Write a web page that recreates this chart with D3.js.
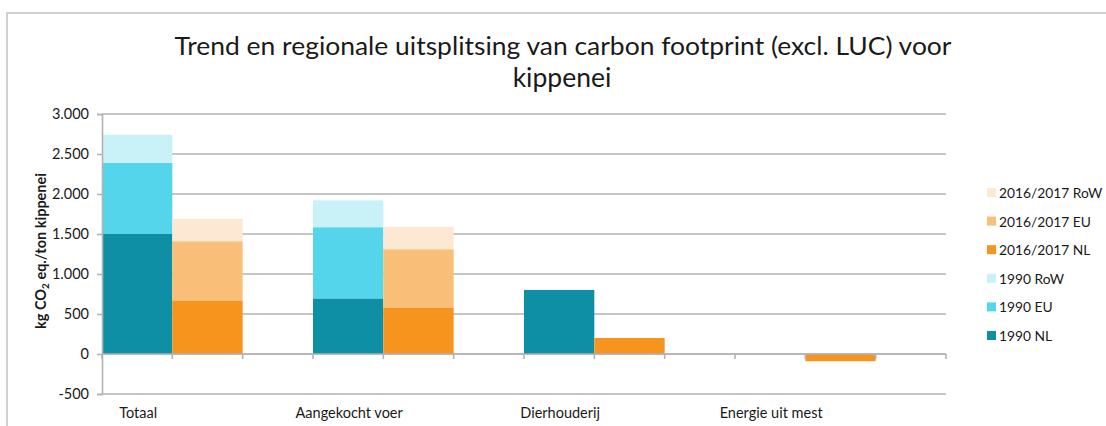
<!DOCTYPE html>
<html>
<head>
<meta charset="utf-8">
<script src="https://cdn.jsdelivr.net/npm/d3@7"></script>
<style>
  body { margin: 0; background: #fff; }
  text { font-family: Lato, "Open Sans", sans-serif; fill: #1a1a1a; }
</style>
</head>
<body>
<div id="vis"></div>
<script>
// DATA ---------------------------------------------------------------
const categories = ["Totaal", "Aangekocht voer", "Dierhouderij", "Energie uit mest"]
const nl1990  = [1500, 695, 800, 0]
const eu1990  = [890, 890, 0, 0]
const row1990 = [350, 335, 0, 0]
const nl2016  = [670, 575, 200, -90]
const eu2016  = [740, 735, 0, 0]
const row2016 = [280, 280, 0, 0]
const yTicks  = [-500, 0, 500, 1000, 1500, 2000, 2500, 3000]
const legendLabels = ["2016/2017 RoW", "2016/2017 EU", "2016/2017 NL", "1990 RoW", "1990 EU", "1990 NL"]

// SETTINGS -----------------------------------------------------------
const width = 1106, height = 426
const plot = { left: 102, right: 946, top: 114, bottom: 394 }
const slots = 12 // 3 slots per category: 1990, 2016/2017, empty
const colors = {
  "1990 NL": "#0f8fa6", "1990 EU": "#55d5ec", "1990 RoW": "#c8f1f8",
  "2016/2017 NL": "#f7941e", "2016/2017 EU": "#f9bf79", "2016/2017 RoW": "#fde9d3"
}
const gridColor = "#b3b3b3"
const labelSize = 14.5

const svg = d3.select("#vis").append("svg")
  .attr("width", width).attr("height", height)

// outer frame (only top and left are visible in the crop)
svg.append("path")
  .attr("d", `M7,${height} V13 H${width}`)
  .attr("fill", "none").attr("stroke", "#d0d0d0").attr("stroke-width", 2)

// SCALES -------------------------------------------------------------
const x = d3.scaleBand().domain(d3.range(slots)).range([plot.left, plot.right]).padding(0)
const y = d3.scaleLinear().domain([-500, 3000]).range([plot.bottom, plot.top])

// gridlines
svg.append("g").selectAll("line").data(yTicks).join("line")
  .attr("x1", plot.left).attr("x2", plot.right)
  .attr("y1", d => y(d)).attr("y2", d => y(d))
  .attr("stroke", gridColor).attr("stroke-width", 1.6)

// STACKED BARS -------------------------------------------------------
const groups = [
  { key: "1990", slot: 0, keys: ["NL", "EU", "RoW"], values: { NL: nl1990, EU: eu1990, RoW: row1990 } },
  { key: "2016/2017", slot: 1, keys: ["NL", "EU", "RoW"], values: { NL: nl2016, EU: eu2016, RoW: row2016 } }
]

groups.forEach(g => {
  const rows = categories.map((c, i) => {
    const r = { i }
    g.keys.forEach(k => r[k] = g.values[k][i])
    return r
  })
  const series = d3.stack().keys(g.keys).offset(d3.stackOffsetDiverging)(rows)
  svg.append("g").selectAll("g").data(series).join("g")
    .attr("fill", s => colors[g.key + " " + s.key])
    .selectAll("rect").data(s => s.filter(d => d[1] !== d[0])).join("rect")
      .attr("x", d => x(d.data.i * 3 + g.slot))
      .attr("width", x.bandwidth())
      .attr("y", d => y(Math.max(d[0], d[1])))
      .attr("height", d => Math.abs(y(d[0]) - y(d[1])))
})

// AXES ---------------------------------------------------------------
// y axis
const yAxis = svg.append("g")
  .attr("transform", `translate(${plot.left},0)`)
  .call(d3.axisLeft(y).tickValues(yTicks).tickSize(5).tickPadding(8)
    .tickFormat(d => String(d).replace(/\B(?=(\d{3})+(?!\d))/g, ".")))
yAxis.select(".domain").attr("stroke", gridColor).attr("stroke-width", 1.6)
yAxis.selectAll(".tick line").attr("stroke", gridColor).attr("stroke-width", 1.6)
yAxis.selectAll(".tick text").attr("font-size", labelSize).attr("fill", "#1a1a1a")
  .style("font-family", "Lato, 'Open Sans', sans-serif")

// x axis on the zero line, ticks at slot edges
const edges = d3.range(slots + 1).map(i => plot.left + i * x.bandwidth())
svg.append("line")
  .attr("x1", plot.left).attr("x2", plot.right)
  .attr("y1", y(0)).attr("y2", y(0))
  .attr("stroke", gridColor).attr("stroke-width", 1.6)
svg.append("g").selectAll("line").data(edges).join("line")
  .attr("x1", d => d).attr("x2", d => d)
  .attr("y1", y(0)).attr("y2", y(0) + 5)
  .attr("stroke", gridColor).attr("stroke-width", 1.6)

// category labels
svg.append("g").selectAll("text").data(categories).join("text")
  .attr("x", (d, i) => x(i * 3) + x.bandwidth() / 2 + 1)
  .attr("y", 418)
  .attr("text-anchor", "middle")
  .attr("font-size", labelSize)
  .text(d => d)

// y axis title
const yTitle = svg.append("text")
  .attr("transform", "translate(46,251) rotate(-90)")
  .attr("text-anchor", "middle")
  .attr("font-size", 14.5).attr("font-weight", "bold")
yTitle.append("tspan").text("kg CO")
yTitle.append("tspan").attr("font-size", 10).attr("dy", 3).text("2")
yTitle.append("tspan").attr("dy", -3).text(" eq./ton kippenei")

// TITLE --------------------------------------------------------------
svg.append("text")
  .attr("x", 563).attr("y", 55)
  .attr("text-anchor", "middle").attr("font-size", 25.5)
  .attr("textLength", 777).attr("lengthAdjust", "spacingAndGlyphs")
  .text("Trend en regionale uitsplitsing van carbon footprint (excl. LUC) voor")
svg.append("text")
  .attr("x", 562).attr("y", 87)
  .attr("text-anchor", "middle").attr("font-size", 26.5)
  .text("kippenei")

// LEGEND -------------------------------------------------------------
const legend = svg.append("g").selectAll("g").data(legendLabels).join("g")
  .attr("transform", (d, i) => `translate(987,${193 + i * 28.6})`)
legend.append("rect")
  .attr("x", 0).attr("y", -5).attr("width", 9).attr("height", 9)
  .attr("fill", d => colors[d])
legend.append("text")
  .attr("x", 12).attr("y", 5)
  .attr("font-size", 13.8)
  .text(d => d)
</script>
</body>
</html>
